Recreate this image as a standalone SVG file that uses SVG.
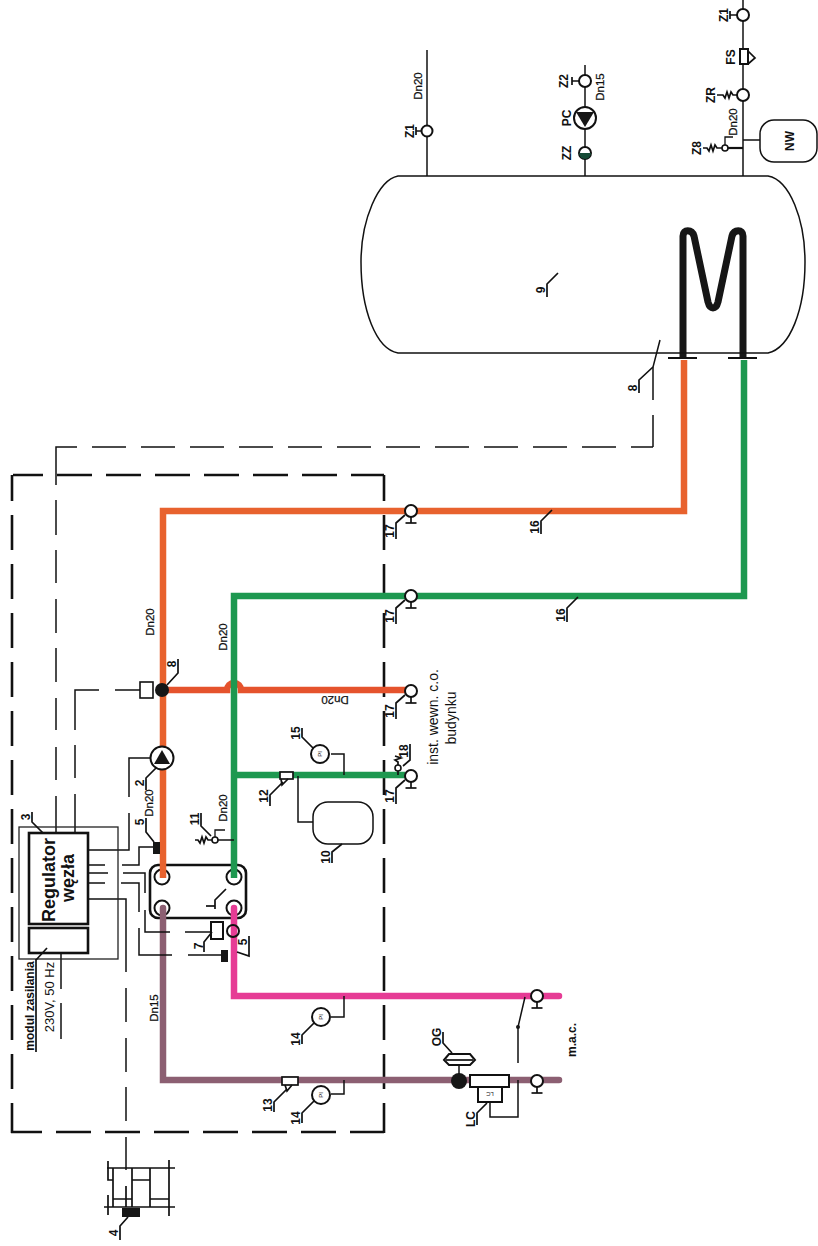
<svg xmlns="http://www.w3.org/2000/svg" width="818" height="1246" viewBox="0 0 818 1246">
<style>
text{font-family:"Liberation Sans",Arial,sans-serif;fill:#111}
.l{font-size:12px;font-weight:700;text-anchor:middle}
.d{font-size:11.5px;text-anchor:middle;stroke:#111;stroke-width:.25}
.s{font-size:6px;text-anchor:middle}
.p{fill:none;stroke-width:6.500;stroke-linejoin:miter}
.o{stroke:#e8622e}.g{stroke:#1e9850}.v{stroke:#8c5f72}.k{stroke:#e63c95}
.t{fill:none;stroke:#222;stroke-width:1.3}
.m{fill:none;stroke:#111;stroke-width:1.7}
.w{fill:#fff;stroke:#111;stroke-width:2}
.b{fill:none;stroke:#111;stroke-width:2.6}
.bf{fill:#161616;stroke:none}
.f{fill:none;stroke:#111;stroke-width:1.5}
.dl{fill:none;stroke:#111;stroke-width:1.5;stroke-dasharray:34 15}
.db{fill:none;stroke:#111;stroke-width:2.6;stroke-dasharray:35 14}
</style>
<defs>
<g id="valve"><line class="m" x1="0" y1="6" x2="0" y2="12"/><line class="m" x1="-5.500" y1="12" x2="5.500" y2="12"/><circle class="w" r="6"/></g>
<g id="gauge"><circle class="w" r="9"/><text class="s" transform="rotate(-90)" y="2">PI</text></g>
</defs>

<g id="boundary">
<line class="db" x1="13" y1="475" x2="384" y2="475" stroke-dashoffset="5"/>
<line class="db" x1="12" y1="475" x2="12" y2="1133" stroke-dashoffset="9"/>
<line class="db" x1="384" y1="475" x2="384" y2="1133" stroke-dashoffset="9"/>
<line class="db" x1="11" y1="1132" x2="384" y2="1132" stroke-dashoffset="4"/>
</g>

<g id="exchanger-1">
<rect class="b" x="150" y="865" width="96" height="53" rx="8" style="fill:#fff"/>
<circle class="w" cx="162" cy="877" r="7.500"/><circle class="w" cx="234" cy="877" r="7.500"/>
<circle class="w" cx="162" cy="908" r="7.500"/><circle class="w" cx="234" cy="908" r="7.500"/>
<polyline class="m" points="226,889 215,900 215,909"/><line class="m" x1="206" y1="906" x2="215" y2="906"/>
</g>

<g id="connectors">
<g id="pipes">
<path class="p o" d="M163 878V511H684V360"/>
<path class="p o" style="stroke:#e5532d" d="M163 690H227A7 7 0 0 1 241 690H406"/>
<path class="p g" d="M234 878V596H744V360"/>
<path class="p g" d="M234 775H405"/>
<path class="p k" stroke-linecap="round" d="M234 908V996H559"/>
<path class="p v" stroke-linecap="round" d="M163 908V1080H559"/>
<path fill="none" stroke="#161616" stroke-width="7" stroke-linejoin="round" d="M683 358V236C683 229 692 229 694 236L708 302C710 310 716 310 718 302L732 236C734 229 743 229 743 236V358"/>
</g>
<g id="signal-lines">
<path class="f" d="M56 833V796M56 780V747M56 730V698M56 682V648M56 633V599M56 583V550M56 535V500M56 485V447H77"/>
<line class="dl" x1="92" y1="447" x2="653" y2="447"/>
<path class="f" d="M653 447V415M653 400V367L660 340"/>
<path class="f" d="M75 833V794M75 778V745M75 730V690H99M115 690H140"/>
<path class="f" d="M152 758H129V797M129 813V850H88"/>
<path class="f" d="M88 865H105M122 865H139V847H153"/>
<path class="f" d="M88 873H108M123 873H145V893M145 910V932H170M185 932H211"/>
<path class="f" d="M88 883H105M121 883H139V912M139 928V955H172M188 955H221"/>
<path class="f" d="M88 899H126V972M126 988V1022M126 1038V1072M126 1087V1121M126 1137V1170"/>
<path class="f" d="M61 953V989M61 1003V1039"/>
<path class="f" d="M427 50V176"/>
<path class="f" d="M585 65V176"/>
<path class="f" d="M743 0V176"/>
<path class="f" d="M743 140H760"/>
<path class="f" d="M298 776V822H313"/>
<path class="f" d="M331 754H344V775"/>
<path class="f" d="M331 1017H344V996"/>
<path class="f" d="M331 1094H344V1080"/>
<path class="f" d="M518 1063V1027L525 997"/>
<path class="f" d="M490 1102V1117H518V1080"/>
<path class="f" d="M459 1065V1075"/>
<path class="f" d="M215 840H234"/>
</g>
</g>

<g id="tank-9">
<path class="f" d="M398 176H768C790 180 805 220 805 262C805 310 790 348 768 353H398C376 349 361 310 361 262C361 220 378 180 398 176Z"/>
<path class="f" style="stroke-width:1.800" d="M668 358H697M728 358H757"/>
<polyline class="m" points="558,273 547,284 547,297"/>
<text class="l" transform="translate(545,290) rotate(-90)">9</text>
<polyline class="m" points="653,367 639,380 639,393"/>
<text class="l" transform="translate(637,388) rotate(-90)">8</text>
</g>

<g id="fitting-z1-left">
<circle class="w" cx="427" cy="131" r="5.500"/>
<path class="m" d="M421 131H416M416 127V135"/>
<text class="l" transform="translate(414,131) rotate(-90)">Z1</text>
<text class="d" transform="translate(422,86) rotate(-90)">Dn20</text>
</g>
<g id="fitting-z2">
<circle class="w" cx="585" cy="81" r="6"/>
<path class="m" d="M579 81H572M572 77V85"/>
<text class="l" transform="translate(568,81) rotate(-90)">Z2</text>
<text class="d" transform="translate(604,87) rotate(-90)">Dn15</text>
</g>
<g id="pump-pc">
<circle class="w" cx="585" cy="118" r="11"/>
<polygon class="bf" points="576,112 594,112 585,127"/>
<text class="l" transform="translate(571,118) rotate(-90)">PC</text>
</g>
<g id="fitting-zz">
<circle class="w" cx="585" cy="153" r="6"/>
<path d="M579 153A6 6 0 0 0 591 153Z" fill="#154a35"/>
<text class="l" transform="translate(571,153) rotate(-90)">ZZ</text>
</g>
<g id="fitting-z1-right">
<circle class="w" cx="743" cy="15" r="6"/>
<path class="m" d="M737 15H730M730 11V19"/>
<text class="l" transform="translate(728,15) rotate(-90)">Z1</text>
</g>
<g id="filter-fs">
<rect class="w" x="740" y="49" width="8" height="15"/>
<path class="m" d="M748 51L755 58L748 64"/>
<text class="l" transform="translate(735,57) rotate(-90)">FS</text>
</g>
<g id="fitting-zr">
<circle class="w" cx="743" cy="95" r="6"/>
<polyline class="m" points="737,95 733,95 731,92 729,98 727,92 725,98 723,95 717,95"/>
<text class="l" transform="translate(715,95) rotate(-90)">ZR</text>
<text class="d" transform="translate(737,122) rotate(-90)">Dn20</text>
</g>
<g id="fitting-z8">
<path class="m" style="stroke-width:2.200" d="M728 148H743"/>
<circle class="w" style="stroke-width:1.600" cx="725" cy="148" r="3"/>
<path class="m" style="stroke-width:1.300" d="M725 145V137H733"/>
<polyline class="m" points="722,148 717,148 715,145 713,151 711,145 709,151 707,148 703,148"/>
<text class="l" transform="translate(701,148) rotate(-90)">Z8</text>
</g>
<g id="vessel-nw">
<rect class="f" x="760" y="120" width="57" height="42" rx="14" ry="14"/>
<text class="l" transform="translate(794,141) rotate(-90)">NW</text>
</g>

<g id="regulator-3">
<rect class="t" x="19" y="827" width="99" height="132"/>
<rect class="b" x="29" y="833" width="59" height="91"/>
<rect class="b" x="29" y="928" width="59" height="25"/>
<text transform="translate(55,880) rotate(-90)" text-anchor="middle" font-size="18" font-weight="700">Regulator</text>
<text transform="translate(74,878) rotate(-90)" text-anchor="middle" font-size="18" font-weight="700">węzła</text>
<polyline class="m" points="43,833 32,822 32,812"/>
<text class="l" transform="translate(30,817) rotate(-90)">3</text>
<polyline class="m" points="47,948 36,960"/>
<text class="l" transform="translate(34,1006) rotate(-90)">modul zasilania</text>
<line class="m" x1="36" y1="959" x2="36" y2="1052"/>
<text transform="translate(54,997) rotate(-90)" text-anchor="middle" font-size="13">230V, 50 Hz</text>
</g>

<g id="sensor-5a">
<rect class="bf" x="153" y="842" width="7" height="12"/>
<polyline class="m" points="154,842 146,832 146,818"/>
<text class="l" transform="translate(144,822) rotate(-90)">5</text>
</g>
<g id="sensor-5b">
<rect class="bf" x="221" y="950" width="7" height="12"/>
<polyline class="m" points="237,952 249,956 249,936"/>
<text class="l" transform="translate(247,942) rotate(-90)">5</text>
</g>
<g id="box-7">
<rect class="w" x="211" y="922" width="12" height="17"/>
<polyline class="m" points="212,932 204,942 204,952"/>
<text class="l" transform="translate(203,946) rotate(-90)">7</text>
<circle class="w" cx="233" cy="931" r="6" style="fill:none"/>
</g>
<g id="pump-2">
<circle class="w" cx="162" cy="758" r="11.500"/>
<polygon class="bf" points="154,764 170,764 162,750"/>
<polyline class="m" points="156,768 146,778 146,790"/>
<text class="l" transform="translate(144,783) rotate(-90)">2</text>
<text class="d" transform="translate(153,803) rotate(-90)">Dn20</text>
</g>
<g id="sensor-8">
<rect class="w" style="stroke-width:1.600" x="140" y="682" width="13" height="16"/>
<circle class="bf" cx="162" cy="690" r="7"/>
<polyline class="m" points="167,685 178,673 178,659"/>
<text class="l" transform="translate(176,664) rotate(-90)">8</text>
<text class="d" transform="translate(154,622) rotate(-90)">Dn20</text>
</g>
<g id="labels-green">
<text class="d" transform="translate(227,637) rotate(-90)">Dn20</text>
<text class="d" transform="translate(227,808) rotate(-90)">Dn20</text>
<text class="d" transform="translate(335,696) rotate(180)">Dn20</text>
<text class="d" transform="translate(158,1008) rotate(-90)">Dn15</text>
</g>
<g id="valve-11">
<circle class="w" style="stroke-width:1.600" cx="215" cy="840" r="3"/>
<path class="m" style="stroke-width:1.300" d="M215 837V830H225"/>
<polyline class="m" points="212,840 208,840 206,837 204,843 202,837 200,843 198,840 195,840"/>
<polyline class="m" points="211,836 201,826 201,813"/>
<text class="l" transform="translate(199,819) rotate(-90)">11</text>
</g>
<g id="valve-12">
<rect class="w" style="stroke-width:1.700" x="280" y="772" width="13" height="7"/>
<path class="m" d="M288 779L282 785L281 779"/>
<polyline class="m" points="283,782 270,795 270,806"/>
<text class="l" transform="translate(268,796) rotate(-90)">12</text>
</g>
<g id="gauge-15">
<use href="#gauge" x="320" y="754"/>
<polyline class="m" points="313,748 302,737 302,728"/>
<text class="l" transform="translate(300,733) rotate(-90)">15</text>
</g>
<g id="vessel-10">
<rect class="f" x="313" y="802" width="60" height="42" rx="15" ry="15"/>
<polyline class="m" points="342,844 332,852 332,863"/>
<text class="l" transform="translate(330,857) rotate(-90)">10</text>
</g>
<g id="valves-17">
<use href="#valve" x="411" y="511"/><use href="#valve" x="411" y="596"/><use href="#valve" x="411" y="691"/><use href="#valve" x="411" y="776"/>
<polyline class="m" points="405,515 396,523 396,539"/><text class="l" transform="translate(394,531) rotate(-90)">17</text>
<polyline class="m" points="405,600 396,608 396,624"/><text class="l" transform="translate(394,616) rotate(-90)">17</text>
<polyline class="m" points="405,695 396,703 396,719"/><text class="l" transform="translate(394,711) rotate(-90)">17</text>
<polyline class="m" points="405,780 396,788 396,804"/><text class="l" transform="translate(394,796) rotate(-90)">17</text>
</g>
<g id="valve-18">
<circle class="w" style="stroke-width:1.600" cx="398" cy="768" r="3"/>
<path class="m" d="M398 775V771M398 765V762L395 760L401 758L395 756M403 766L410 760V744"/>
<text class="l" transform="translate(408,751) rotate(-90)">18</text>
</g>
<g id="labels-16">
<polyline class="m" points="552,510 541,521 541,534"/><text class="l" transform="translate(539,527) rotate(-90)">16</text>
<polyline class="m" points="578,597 567,608 567,622"/><text class="l" transform="translate(565,615) rotate(-90)">16</text>
</g>
<g id="installation-label">
<text transform="translate(438,717) rotate(-90)" text-anchor="middle" font-size="14">inst. wewn. c.o.</text>
<text transform="translate(456,718) rotate(-90)" text-anchor="middle" font-size="14">budynku</text>
</g>
<g id="gauge-14a">
<use href="#gauge" x="321" y="1017"/>
<polyline class="m" points="314,1023 302,1035 302,1044"/>
<text class="l" transform="translate(300,1039) rotate(-90)">14</text>
</g>
<g id="gauge-14b">
<use href="#gauge" x="321" y="1095"/>
<polyline class="m" points="314,1101 302,1113 302,1123"/>
<text class="l" transform="translate(300,1118) rotate(-90)">14</text>
</g>
<g id="valve-13">
<rect class="w" style="stroke-width:1.700" x="282" y="1077" width="16" height="8"/>
<path class="m" d="M292 1085L287 1091L285 1085"/>
<polyline class="m" points="287,1089 274,1102 274,1112"/>
<text class="l" transform="translate(272,1105) rotate(-90)">13</text>
</g>
<g id="meter-og">
<polygon class="w" points="444,1060 449,1054 470,1054 475,1060 470,1065 449,1065"/>
<line class="m" x1="446" y1="1060" x2="473" y2="1060"/>
<circle class="bf" cx="459" cy="1081" r="8"/>
<polyline class="m" points="452,1053 443,1043 443,1032"/>
<text class="l" transform="translate(441,1037) rotate(-90)">OG</text>
</g>
<g id="controller-lc">
<rect class="w" x="470" y="1075" width="39" height="12"/>
<rect class="w" x="478" y="1087" width="24" height="15"/>
<text class="s" transform="translate(490,1092) rotate(180)">LC</text>
<polyline class="m" points="487,1103 477,1113 477,1125"/>
<text class="l" transform="translate(475,1119) rotate(-90)">LC</text>
</g>
<g id="valves-mac">
<circle class="bf" cx="518" cy="1027" r="2"/>
<use href="#valve" x="537" y="996"/><use href="#valve" x="537" y="1081"/>
<text class="l" transform="translate(576,1040) rotate(-90)">m.a.c.</text>
</g>
<g id="device-4">
<path class="m" d="M107 1168H175M104 1207H175M108 1161V1180H113M108 1195V1215M113 1168V1207M132 1168V1207M150 1168V1207M169 1160V1216M132 1180H150M113 1199H132M150 1199H169M126 1186V1207"/>
<rect class="bf" x="122" y="1208" width="18" height="9"/>
<polyline class="m" points="128,1217 120,1226 120,1240"/>
<text class="l" transform="translate(118,1233) rotate(-90)">4</text>
</g>
</svg>
